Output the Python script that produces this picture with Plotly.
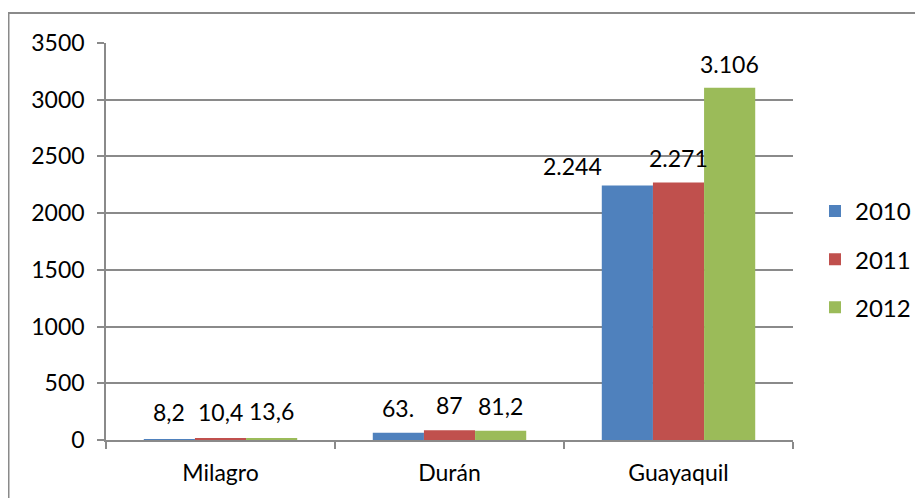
import plotly.graph_objects as go

categories = ["Milagro", "Durán", "Guayaquil"]
series_names = ["2010", "2011", "2012"]
values_2010 = [8.2, 63, 2244]
values_2011 = [10.4, 87, 2271]
values_2012 = [13.6, 81.2, 3106]
labels_2010 = ["8,2", "63.", "2.244"]
labels_2011 = ["10,4", "87", "2.271"]
labels_2012 = ["13,6", "81,2", "3.106"]
y_ticks = [0, 500, 1000, 1500, 2000, 2500, 3000, 3500]

colors = ["#4F81BD", "#C0504D", "#9BBB59"]
FONT = "Lato"

# page body has an 8px margin, so the figure is drawn 8px smaller/offset
OFF = 8
W, H = 923 - OFF, 498 - OFF
L, T = 106 - OFF, 43 - OFF
R = W - (793 - OFF)
B = H - (440 - OFF)
plot_w = W - L - R
plot_h = H - T - B

series_vals = [values_2010, values_2011, values_2012]
series_lbls = [labels_2010, labels_2011, labels_2012]

fig = go.Figure()
for name, vals, col in zip(series_names, series_vals, colors):
    fig.add_trace(go.Bar(x=categories, y=vals, name=name, marker_color=col,
                         marker_line_width=0, legendgroup=name))

bargap = 0.33
bar_px = plot_w / len(categories) * (1 - bargap) / 3

# per-label manual nudges (px) like the original (2.244 moved left)
nudge_x = [[0, 0, -55], [0, 0, 0], [0, 0, 0]]
nudge_y = [[27, 25, 19], [27, 25, 24], [27, 25, 24]]

annotations = []
for si, (vals, lbls) in enumerate(zip(series_vals, series_lbls)):
    for ci, (cat, v, t) in enumerate(zip(categories, vals, lbls)):
        annotations.append(dict(
            x=cat, y=v, xref="x", yref="y", text=t, showarrow=False,
            xshift=(si - 1) * bar_px + nudge_x[si][ci], yshift=nudge_y[si][ci],
            font=dict(family=FONT, size=23, color="#000000"),
            xanchor="center", yanchor="middle"))

fig.update_layout(
    width=W, height=H,
    margin=dict(l=L, r=R, t=T, b=B, autoexpand=False),
    paper_bgcolor="white", plot_bgcolor="white",
    barmode="group", bargap=bargap, bargroupgap=0,
    font=dict(family=FONT, size=23, color="#000000"),
    showlegend=True,
    legend=dict(x=1.0 + 22 / plot_w, xanchor="left", xref="paper",
                y=0.455, yanchor="middle",
                font=dict(family=FONT, size=24), itemwidth=30,
                tracegroupgap=14, bgcolor="rgba(0,0,0,0)"),
    annotations=annotations,
    shapes=[dict(type="rect", xref="paper", yref="paper",
                 x0=(0.5) / plot_w - L / plot_w, x1=1.3,
                 y0=-0.3, y1=(plot_h + T - 5) / plot_h,
                 line=dict(color="#8a8a8a", width=2), layer="below")],
)
fig.update_xaxes(showline=True, linecolor="#8a8a8a", linewidth=1.5,
                 ticks="outside", tickson="boundaries", ticklen=7,
                 tickcolor="#8a8a8a", tickwidth=1.5, showgrid=False,
                 ticklabelstandoff=12, automargin=False,
                 tickfont=dict(family=FONT, size=23))
fig.update_yaxes(range=[0, 3500], tickvals=y_ticks, showline=True,
                 linecolor="#8a8a8a", linewidth=1.5, ticks="outside", ticklen=7,
                 tickcolor="#8a8a8a", tickwidth=1.5,
                 showgrid=True, gridcolor="#8a8a8a", gridwidth=1.5,
                 zeroline=False, ticklabelstandoff=8, automargin=False,
                 tickfont=dict(family=FONT, size=23))

fig.write_html("out.html")
